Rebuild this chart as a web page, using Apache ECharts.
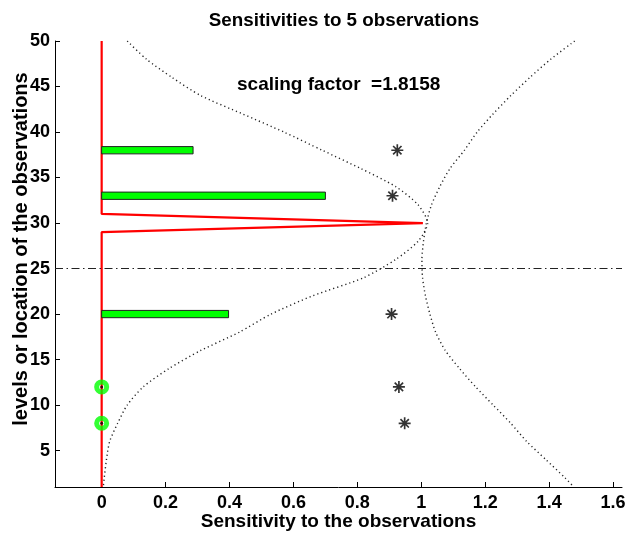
<!DOCTYPE html>
<html>
<head>
<meta charset="utf-8">
<script src="https://cdn.jsdelivr.net/npm/echarts@6/dist/echarts.min.js"></script>
<style>
html,body{margin:0;padding:0;background:#fff;}
#c{width:628px;height:534px;}
</style>
</head>
<body>
<div id="c"></div>
<script>
// ---- data ----
const titleText = 'Sensitivities to 5 observations';
const xName = 'Sensitivity to the observations';
const yName = 'levels or location of the observations';
const scalingText = 'scaling factor  =1.8158';

const xTicks = [0, 0.2, 0.4, 0.6, 0.8, 1, 1.2, 1.4, 1.6];
const yTicks = [5, 10, 15, 20, 25, 30, 35, 40, 45, 50];

// red sensitivity profile (x, level)
const redX = [0, 0, 1.005, 0, 0];
const redY = [50, 31, 30, 29, 1];

// green bars
const barLevels = [38, 33, 20];
const barValues = [0.286, 0.70, 0.397];

// green circles
const circleLevels = [12, 8];
const circleValues = [0, 0];

// stars
const starLevels = [38, 33, 20, 12, 8];
const starValues = [0.925, 0.91, 0.907, 0.93, 0.948];

// dotted curves
const curve1Levels = [50, 48, 46, 44, 42, 40, 38, 36, 34, 32, 30, 28, 26, 24, 22, 20, 18, 16, 14, 12, 10, 8, 6, 4, 2, 1];
const curve1Values = [0.08, 0.14, 0.22, 0.31, 0.44, 0.57, 0.69, 0.81, 0.92, 0.99, 1.02, 0.99, 0.92, 0.82, 0.66, 0.53, 0.43, 0.31, 0.21, 0.13, 0.08, 0.05, 0.025, 0.015, 0.008, 0.005];
const curve2Levels = [50, 48, 46, 44, 42, 40, 38, 36, 34, 32, 30, 28, 26, 24, 22, 20, 18, 16, 14, 12, 10, 8, 6, 4, 2, 1];
const curve2Values = [1.48, 1.405, 1.34, 1.28, 1.225, 1.175, 1.135, 1.09, 1.058, 1.032, 1.016, 1.007, 1.002, 1.004, 1.013, 1.027, 1.045, 1.075, 1.12, 1.17, 1.225, 1.28, 1.33, 1.39, 1.45, 1.477];

const thresholdLevel = 25;

// ---- chart ----
const FONT = '"Liberation Sans", Arial, Helvetica, sans-serif';
const zip = (xs, ys) => xs.map((x, i) => [x, ys[i]]);

const starPath = 'path://M8.6 0L11.4 0L11.4 20L8.6 20Z M0 8.6L20 8.6L20 11.4L0 11.4Z M2 4L4 2L18 16L16 18Z M16 2L18 4L4 18L2 16Z';

const chart = echarts.init(document.getElementById('c'), null, {renderer: 'canvas'});

const option = {
  backgroundColor: '#fff',
  animation: false,
  title: {
    text: titleText,
    left: 339,
    top: 6,
    textAlign: 'center',
    textStyle: {fontFamily: FONT, fontWeight: 'bold', fontSize: 18.8, color: '#000'}
  },
  grid: {left: 55, right: 6, top: 41, bottom: 47, containLabel: false, outerBoundsMode: 'none'},
  xAxis: {
    type: 'value',
    min: -0.146,
    max: 1.628,
    name: xName,
    nameLocation: 'middle',
    nameGap: 25,
    nameMoveOverlap: false,
    nameTextStyle: {fontFamily: FONT, fontWeight: 'bold', fontSize: 19, color: '#000'},
    axisLine: {show: true, onZero: false, lineStyle: {color: '#000', width: 1}},
    axisTick: {show: true, inside: true, length: 5, customValues: xTicks, lineStyle: {color: '#000'}},
    axisLabel: {show: true, customValues: xTicks, margin: 7, fontFamily: FONT, fontWeight: 'bold', fontSize: 18, color: '#000',
      formatter: v => String(Math.round(v * 10) / 10)},
    splitLine: {show: false}
  },
  yAxis: {
    type: 'value',
    min: 1,
    max: 50,
    name: yName,
    nameLocation: 'middle',
    nameGap: 24,
    nameMoveOverlap: false,
    nameTextStyle: {fontFamily: FONT, fontWeight: 'bold', fontSize: 20, color: '#000', padding: [0, 0, 0, 30]},
    axisLine: {show: true, onZero: false, lineStyle: {color: '#000', width: 1}},
    axisTick: {show: true, inside: true, length: 5, customValues: yTicks, lineStyle: {color: '#000'}},
    axisLabel: {show: true, customValues: yTicks, margin: 5, fontFamily: FONT, fontWeight: 'bold', fontSize: 18, color: '#000'},
    splitLine: {show: false}
  },
  graphic: [{
    type: 'text',
    left: 237,
    top: 75,
    style: {text: scalingText, fontFamily: FONT, fontWeight: 'bold', fontSize: 19, fill: '#000'}
  }],
  series: [
    {
      type: 'line', data: zip(curve1Values, curve1Levels), showSymbol: false, smooth: 0.25,
      lineStyle: {color: '#222', width: 1.4, type: [1.2, 3]}, silent: true, z: 1
    },
    {
      type: 'line', data: zip(curve2Values, curve2Levels), showSymbol: false, smooth: 0.25,
      lineStyle: {color: '#222', width: 1.4, type: [1.2, 3]}, silent: true, z: 1
    },
    {
      type: 'line', data: [], silent: true, z: 1,
      markLine: {
        silent: true, symbol: ['none', 'none'], label: {show: false},
        lineStyle: {color: '#222', width: 1, type: [8, 3.5, 1.5, 3.5]},
        data: [{yAxis: thresholdLevel}]
      }
    },
    {
      type: 'line', data: zip(redX, redY), showSymbol: false,
      lineStyle: {color: '#ff0000', width: 2.2}, silent: true, z: 2
    },
    {
      type: 'custom', z: 3, silent: true,
      data: zip(barValues, barLevels),
      renderItem: function (params, api) {
        const v = api.value(0), lv = api.value(1);
        const p0 = api.coord([0, lv + 0.4]);
        const p1 = api.coord([v, lv - 0.4]);
        return {
          type: 'rect',
          shape: {x: p0[0], y: p0[1], width: p1[0] - p0[0], height: p1[1] - p0[1]},
          style: {fill: '#00ff00', stroke: '#222', lineWidth: 1}
        };
      }
    },
    {
      type: 'scatter', z: 4, silent: true,
      data: zip(circleValues, circleLevels),
      symbol: 'circle', symbolSize: 10,
      itemStyle: {color: 'rgba(0,0,0,0)', borderColor: '#00ff00', borderWidth: 5}
    },
    {
      type: 'scatter', z: 5, silent: true,
      data: zip(circleValues, circleLevels),
      symbol: 'circle', symbolSize: 3,
      itemStyle: {color: '#000'}
    },
    {
      type: 'scatter', z: 5, silent: true,
      data: zip(starValues, starLevels),
      symbol: starPath, symbolSize: 12,
      itemStyle: {color: '#000'}
    }
  ]
};
chart.setOption(option);
</script>
</body>
</html>
